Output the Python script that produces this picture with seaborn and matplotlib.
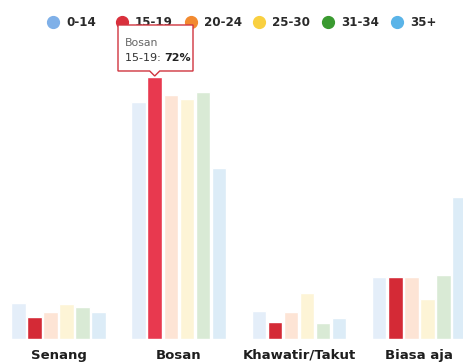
import seaborn as sns
import matplotlib.pyplot as plt
import pandas as pd
from matplotlib.lines import Line2D
from matplotlib.patches import Polygon

# data (percent per age group)
categories = ['Senang', 'Bosan', 'Khawatir/Takut', 'Biasa aja']
age_groups = ['0-14', '15-19', '20-24', '25-30', '31-34', '35+']
val_0_14 = [10, 65, 7.7, 17]
val_15_19 = [6, 72, 4.6, 17]
val_20_24 = [7.5, 67, 7.5, 17]
val_25_30 = [9.6, 66, 12.7, 11]
val_31_34 = [8.7, 68, 4.5, 17.6]
val_35 = [7.5, 47, 5.7, 39]

# legend colours (full) and bar colours (15-19 highlighted, rest faded)
legend_colors = ['#7fb0e8', '#d9303c', '#f28a30', '#f9d040', '#3a9a30', '#5ab4e8']
bar_colors = ['#e4eef9', '#d42a36', '#fde4d5', '#fdf4d6', '#d9ead5', '#dcecf7']
hover_color = '#e8394f'

rows = []
for grp, vals in zip(age_groups, [val_0_14, val_15_19, val_20_24, val_25_30, val_31_34, val_35]):
    for cat, v in zip(categories, vals):
        rows.append({'kategori': cat, 'usia': grp, 'persen': v})
df = pd.DataFrame(rows)

sns.set_style('white')
plt.rcParams['font.family'] = ['DejaVu Sans']

fig = plt.figure(figsize=(4.64, 3.63), dpi=100)
ax = fig.add_axes([-0.0036, 0.0661, 1.037, 0.802])

sns.barplot(data=df, x='kategori', y='persen', hue='usia', order=categories,
            hue_order=age_groups, palette=bar_colors, saturation=1,
            width=0.8, gap=0.1, legend=False, ax=ax)

ax.set_ylim(0, 80)
ax.set_xlim(-0.5, 3.5)
ax.set_xlabel('')
ax.set_ylabel('')
ax.set_yticks([])
sns.despine(ax=ax, left=True, bottom=True)
ax.tick_params(axis='x', length=0, pad=7)
for lbl in ax.get_xticklabels():
    lbl.set_fontweight('bold')
    lbl.set_fontsize(9.5)
    lbl.set_color('#1e1e1e')

# hovered bar: Bosan / 15-19
hbar = ax.patches[1 * len(categories) + 1]
hbar.set_facecolor(hover_color)

# legend drawn by hand
for i, (grp, col) in enumerate(zip(age_groups, legend_colors)):
    x = (53 + i * 68.8) / 464
    y = 1 - 22 / 363
    fig.add_artist(Line2D([x], [y], marker='o', markersize=8.5, color=col,
                          linestyle='', transform=fig.transFigure))
    fig.text(x + 13 / 464, y, grp, fontsize=8.6, fontweight='bold',
             color='#2a2a2a', va='center', ha='left')

# tooltip anchored on the hovered bar
fig.canvas.draw()
W, H = fig.bbox.width, fig.bbox.height
tip_x, tip_y = ax.transData.transform((hbar.get_x() + hbar.get_width() / 2, hbar.get_height()))
left, right = 118 / 464 * W, 193 / 464 * W
top = tip_y + 52
bottom = tip_y + 6
box = [(left, top), (right, top), (right, bottom), (tip_x + 5, bottom),
       (tip_x, tip_y + 1), (tip_x - 5, bottom), (left, bottom)]
fig.patches.append(Polygon(box, closed=True, facecolor='white', edgecolor='#d0343f',
                           linewidth=1, transform=None, zorder=5))
fig.text((left + 7) / W, (top - 18) / H, 'Bosan',
         fontsize=7.8, color='#666666', va='center', zorder=6)
t1 = fig.text((left + 7) / W, (top - 36) / H, '15-19: ',
              fontsize=8, color='#333333', va='baseline', zorder=6)
ext = t1.get_window_extent(renderer=fig.canvas.get_renderer())
fig.text(ext.x1 / W, (top - 36) / H, '72%', fontsize=8, fontweight='bold',
         color='#222222', va='baseline', ha='left', zorder=6)

fig.savefig('out.png', dpi=100)
